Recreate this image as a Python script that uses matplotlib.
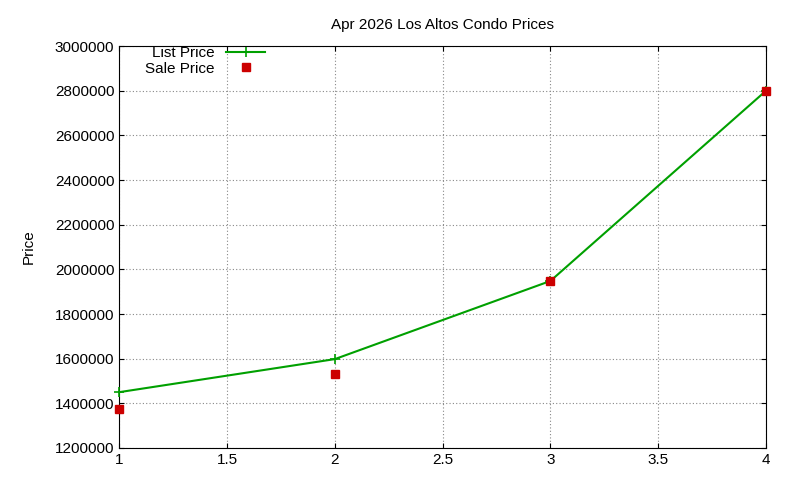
import matplotlib
matplotlib.use("Agg")
import matplotlib.pyplot as plt
plt.rcParams['font.family'] = ['Liberation Sans', 'DejaVu Sans']

x = [1, 2, 3, 4]
list_price = [1450000, 1598000, 1948000, 2800000]
sale_price = [1375000, 1530000, 1950000, 2800000]
yticks = [1200000, 1400000, 1600000, 1800000, 2000000, 2200000, 2400000, 2600000, 2800000, 3000000]
xticks = [1, 1.5, 2, 2.5, 3, 3.5, 4]

fig = plt.figure(figsize=(8, 4.8), dpi=100)
ax = fig.add_axes([0.149, 0.0667, 0.8085, 0.8373])
ax.plot(x, list_price, color="#00a000", lw=1.5, marker="+", ms=7, mew=1.2, label="List Price", clip_on=False, zorder=3)
ax.plot(x, sale_price, ls="none", marker="s", ms=6, color="#cc0000", label="Sale Price", clip_on=False, zorder=4)
ax.set_xlim(1, 4)
ax.set_ylim(1200000, 3000000)
ax.set_xticks(xticks)
ax.set_xticklabels([f"{v:g}" for v in xticks])
ax.set_yticks(yticks)
ax.set_yticklabels([str(v) for v in yticks])
ax.tick_params(direction="in", top=True, right=True, labelsize=11)
ax.grid(True, ls=(0, (1, 2)), color="#888888", lw=0.8)
ax.set_ylabel("Price", fontsize=11, labelpad=14)
ax.set_title("Apr 2026 Los Altos Condo Prices", fontsize=11, pad=12)
ax.legend(loc="upper left", frameon=False, markerfirst=False, fontsize=11,
          handlelength=2.5, borderaxespad=0.0, labelspacing=0.1, bbox_to_anchor=(0.03, 1.015))
fig.savefig("out.png", dpi=100)
